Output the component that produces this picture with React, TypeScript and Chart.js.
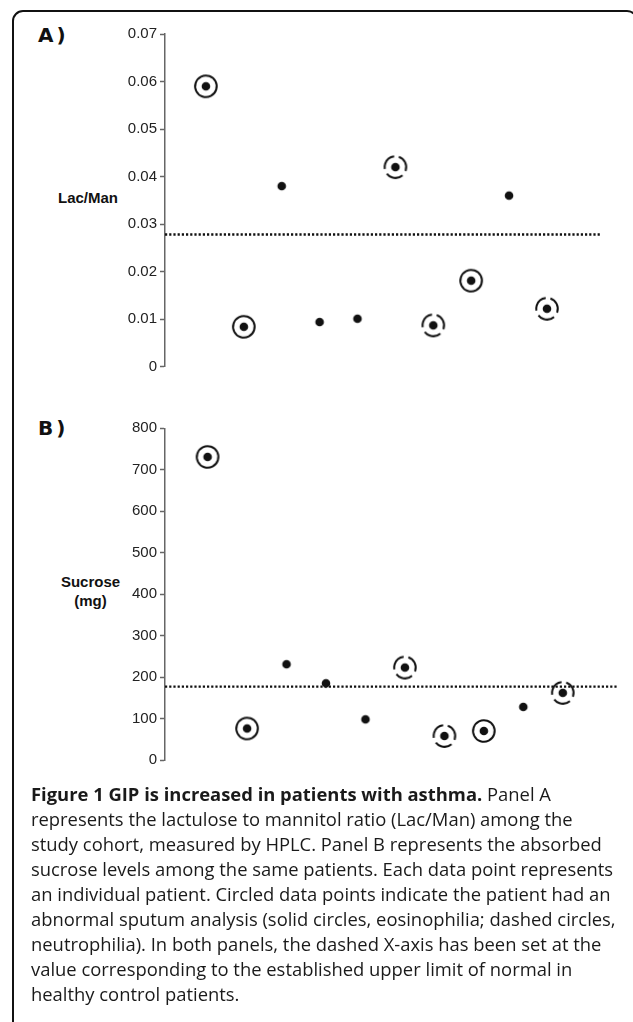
import React, { useEffect, useRef } from "react";
import { Chart, registerables } from "chart.js";

Chart.register(...registerables);

// ---- data ----
const patients = [1, 2, 3, 4, 5, 6, 7, 8, 9, 10];
const lacMan = [0.059, 0.0084, 0.038, 0.0094, 0.0101, 0.042, 0.0087, 0.0181, 0.036, 0.0122];
const sucrose = [731, 76, 231, 185, 98, 223, 58, 70, 128, 162];
// sputum analysis: "eos" = solid circle (eosinophilia), "neu" = dashed circle (neutrophilia), "none" = normal
const sputum = ["eos", "eos", "none", "none", "none", "neu", "neu", "eos", "none", "neu"];
const lacManLimit = 0.0278;
const sucroseLimit = 177;
const lacManTicks = ["0", "0.01", "0.02", "0.03", "0.04", "0.05", "0.06", "0.07"];
const sucroseTicks = ["0", "100", "200", "300", "400", "500", "600", "700", "800"];

const X_MIN = -0.08;
const X_MAX = 11.4;

function makeMarker(kind: string): HTMLCanvasElement {
  const c = document.createElement("canvas");
  c.width = 28;
  c.height = 28;
  const g = c.getContext("2d")!;
  g.fillStyle = "#111";
  g.beginPath();
  g.arc(14, 14, 4.3, 0, Math.PI * 2);
  g.fill();
  if (kind !== "none") {
    g.lineWidth = 2;
    g.strokeStyle = "#111";
    if (kind === "neu") g.setLineDash([17.5, 5.1]);
    g.beginPath();
    g.arc(14, 14, 10.8, -1.25, -1.25 + Math.PI * 2);
    g.stroke();
  }
  return c;
}

type PanelProps = {
  top: number;
  height: number;
  padTop: number;
  padBottom: number;
  padRight: number;
  values: number[];
  limit: number;
  tickLabels: string[];
  max: number;
  step: number;
};

function Panel(p: PanelProps) {
  const ref = useRef<HTMLCanvasElement | null>(null);
  useEffect(() => {
    if (!ref.current) return;
    const markers = sputum.map((k) => makeMarker(k));
    const chart = new Chart(ref.current, {
      type: "scatter",
      data: {
        datasets: [
          {
            data: patients.map((x, i) => ({ x, y: p.values[i] })),
            pointStyle: markers as any,
            pointRadius: 14,
            pointHoverRadius: 14,
            backgroundColor: "#111",
            borderColor: "#111",
          },
          {
            type: "line",
            data: [
              { x: X_MIN, y: p.limit },
              { x: X_MAX, y: p.limit },
            ],
            borderColor: "#111",
            borderWidth: 2.4,
            borderDash: [2.2, 2],
            pointRadius: 0,
            showLine: true,
            fill: false,
          } as any,
        ],
      },
      options: {
        animation: false,
        responsive: false,
        maintainAspectRatio: false,
        events: [],
        plugins: { legend: { display: false }, tooltip: { enabled: false } },
        layout: { padding: { top: p.padTop, bottom: p.padBottom, right: p.padRight, left: 0 } },
        scales: {
          x: { type: "linear", min: X_MIN, max: X_MAX, display: false },
          y: {
            min: 0,
            max: p.max,
            ticks: {
              stepSize: p.step,
              callback: (_v: any, i: number) => p.tickLabels[i],
              color: "#222",
              font: { family: "'Liberation Sans', Arial, sans-serif", size: 15 },
              padding: 3,
            },
            grid: {
              drawOnChartArea: false,
              drawTicks: true,
              tickLength: 5,
              tickColor: "#666",
              tickWidth: 1.5,
              color: "#666",
            },
            border: { display: true, color: "#666", width: 1.5 },
            afterFit: (s: any) => {
              s.width = 165;
            },
          },
        },
      },
    } as any);
    return () => chart.destroy();
  }, []);
  return (
    <canvas
      ref={ref}
      width={633}
      height={p.height}
      style={{ position: "absolute", left: 0, top: p.top, width: 633, height: p.height }}
    />
  );
}

const captionLines: React.ReactNode[] = [
  <>
    <b>Figure 1 GIP is increased in patients with asthma.</b> Panel A
  </>,
  "represents the lactulose to mannitol ratio (Lac/Man) among the",
  "study cohort, measured by HPLC. Panel B represents the absorbed",
  "sucrose levels among the same patients. Each data point represents",
  "an individual patient. Circled data points indicate the patient had an",
  "abnormal sputum analysis (solid circles, eosinophilia; dashed circles,",
  "neutrophilia). In both panels, the dashed X-axis has been set at the",
  "value corresponding to the established upper limit of normal in",
  "healthy control patients.",
];

export default function App() {
  const panelLabel: React.CSSProperties = {
    position: "absolute",
    left: 38,
    fontFamily: "'DejaVu Sans', sans-serif",
    fontWeight: "bold",
    fontSize: 20,
    lineHeight: "22px",
    letterSpacing: "3px",
    color: "#111",
  };
  const axisTitle: React.CSSProperties = {
    position: "absolute",
    width: 120,
    textAlign: "center",
    fontFamily: "'Liberation Sans', Arial, sans-serif",
    fontWeight: "bold",
    fontSize: 15,
    color: "#111",
  };
  return (
    <div
      style={{
        position: "absolute",
        left: 0,
        top: 0,
        width: 633,
        height: 1022,
        overflow: "hidden",
        background: "#fff",
      }}
    >
      <div
        style={{
          position: "absolute",
          left: 12,
          top: 10,
          width: 626,
          height: 1040,
          boxSizing: "border-box",
          border: "2px solid #111",
          borderRadius: 11,
        }}
      />
      <div style={{ ...panelLabel, top: 24 }}>A)</div>
      <div style={{ ...panelLabel, top: 417 }}>B)</div>
      <div style={{ ...axisTitle, left: 28, top: 188.7, lineHeight: "18px" }}>Lac/Man</div>
      <div style={{ ...axisTitle, left: 30.5, top: 572, lineHeight: "19px" }}>
        Sucrose
        <br />
        (mg)
      </div>
      <Panel
        top={0}
        height={400}
        padTop={34}
        padBottom={33.3}
        padRight={33}
        values={lacMan}
        limit={lacManLimit}
        tickLabels={lacManTicks}
        max={0.07}
        step={0.01}
      />
      <Panel
        top={400}
        height={400}
        padTop={28.3}
        padBottom={40}
        padRight={15}
        values={sucrose}
        limit={sucroseLimit}
        tickLabels={sucroseTicks}
        max={800}
        step={100}
      />
      <div
        style={{
          position: "absolute",
          left: 31,
          top: 780.5,
          fontFamily: "'Open Sans', sans-serif",
          fontSize: 18.4,
          lineHeight: "25px",
          color: "#1a1a1a",
          whiteSpace: "nowrap",
        }}
      >
        {captionLines.map((l, i) => (
          <div key={i}>{l}</div>
        ))}
      </div>
    </div>
  );
}
